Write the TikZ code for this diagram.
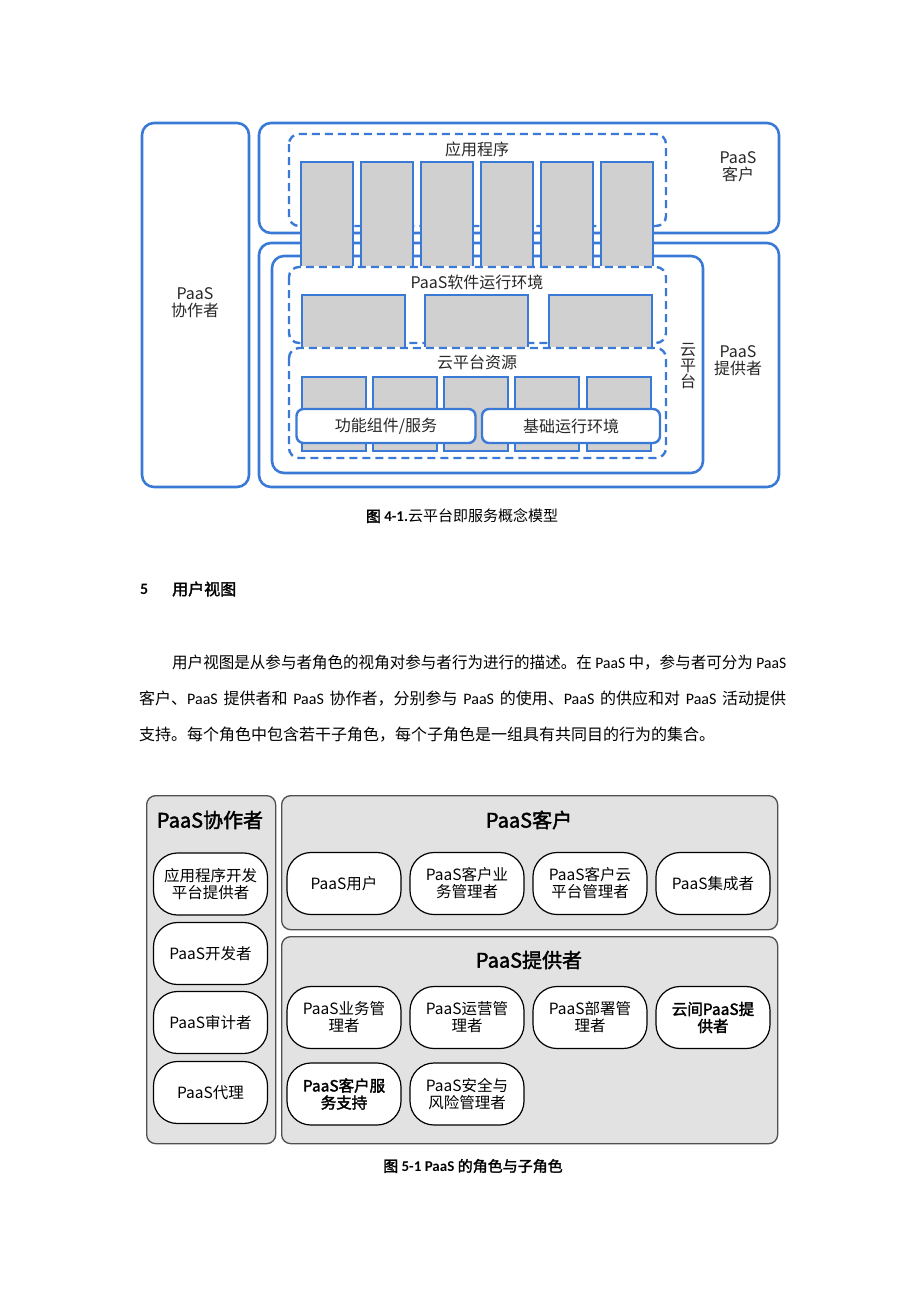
\documentclass[tikz,border=0pt]{standalone}
\usepackage{graphicx}
\usepackage{fontspec}
\setmainfont{Noto Sans CJK SC}[AutoFakeBold=2]
\newfontfamily\latin{Carlito}
\usetikzlibrary{shapes}
\definecolor{paasblue}{RGB}{58,122,214}
\definecolor{colgray}{RGB}{208,208,208}
\definecolor{panelgray}{RGB}{226,226,226}
\definecolor{panelline}{RGB}{80,80,80}
\definecolor{inktext}{RGB}{40,40,40}

\begin{document}
\begin{tikzpicture}[x=1pt,y=-1pt,
      bluebox/.style={draw=paasblue,line width=2.6pt,rounded corners=12pt},
      dashbox/.style={draw=paasblue,line width=2.4pt,dash pattern=on 8pt off 5pt,rounded corners=10pt},
      grayblock/.style={fill=colgray},
      blueline/.style={draw=paasblue,line width=2.4pt},
      whitebox/.style={draw=paasblue,line width=2.4pt,fill=white,rounded corners=7pt,
        minimum height=34pt,inner sep=0pt,text=inktext,font=\fontsize{16}{17}\selectfont},
      bluetext/.style={font=\fontsize{16}{17}\selectfont,align=center,inner sep=0pt,text=inktext},
      panel/.style={draw=panelline,line width=1.3pt,fill=panelgray,rounded corners=9pt,anchor=north west},
      role/.style={draw=black,line width=1.2pt,fill=white,rounded corners=24pt,minimum width=114pt,
        minimum height=62pt,align=center,font=\fontsize{15.5}{17}\selectfont,inner sep=0pt},
      paneltitle/.style={font=\fontsize{20}{22}\selectfont\bfseries,inner sep=0pt},
      bodytext/.style={font=\fontsize{16}{18}\selectfont,anchor=west,inner sep=0pt}]
  \useasboundingbox (0,0) rectangle (920,1302);
  \fill[white] (0,0) rectangle (920,1302);

  % figure 4-1
  \draw[bluebox] (142,123) rectangle (249,487);
  \draw[bluebox] (259,123) rectangle (779,233);
  \draw[bluebox] (259,243) rectangle (779,487);
  \draw[bluebox] (272,256) rectangle (703,473);
  \draw[dashbox] (289,134) rectangle (666,226);
  \foreach \x in {301,361,...,601}{
    \fill[grayblock] (\x,162) rectangle ++(52,104);
    \draw[blueline] (\x,266) -- ++(0,-104) -- ++(52,0) -- ++(0,104);
  }
  \draw[dashbox] (289,267) rectangle (666,343);
  \foreach \x in {302,425,549}{
    \fill[grayblock] (\x,295) rectangle ++(103,52);
    \draw[blueline] (\x,347) -- ++(0,-52) -- ++(103,0) -- ++(0,52);
  }
  \draw[dashbox] (289,348) rectangle (666,458);
  \foreach \x in {302,373,444,515,587}{
    \draw[blueline,fill=colgray] (\x,377) rectangle ++(64,74);
  }
  \node[whitebox,minimum width=179pt] (func) at (386,426) {功能组件/服务};
  \node[whitebox,minimum width=178pt] (infra) at (571,426) {基础运行环境};

  \node[bluetext] (apps) at (477,149) {应用程序};
  \node[bluetext] (runtime) at (477,282) {PaaS软件运行环境};
  \node[bluetext] (resources) at (477,362) {云平台资源};
  \node[bluetext,font=\fontsize{16}{16}\selectfont] (cloud) at (688,366) {云\\平\\台};
  \node[bluetext] (customer) at (738,167) {PaaS\\客户};
  \node[bluetext] (provider) at (738,361) {PaaS\\提供者};
  \node[bluetext] (partner) at (195,303) {PaaS\\协作者};

  \node[font=\fontsize{15}{17}\selectfont,inner sep=0pt] (caption1) at (462,516)
    {{\bfseries 图 {\latin 4-1.}}云平台即服务概念模型};

  % section 5
  \node[bodytext] (secnum) at (140,589) {\bfseries\latin 5};
  \node[bodytext] (sectitle) at (172,589) {\bfseries 用户视图};
  \node[bodytext] (line1) at (172,663)
    {\resizebox{614pt}{\height}{用户视图是从参与者角色的视角对参与者行为进行的描述。在 {\latin PaaS} 中，参与者可分为 {\latin PaaS}}};
  \node[bodytext] (line2) at (139,699)
    {\makebox[647pt][s]{客户、{\latin PaaS} 提供者和 {\latin PaaS} 协作者，分别参与 {\latin PaaS} 的使用、{\latin PaaS} 的供应和对 {\latin PaaS} 活动提供}};
  \node[bodytext] (line3) at (139,735)
    {支持。每个角色中包含若干子角色，每个子角色是一组具有共同目的行为的集合。};

  % figure 5-1
  \node[panel,minimum width=129pt,minimum height=348pt] (collab) at (146,795) {};
  \node[panel,minimum width=496pt,minimum height=134pt] (custpanel) at (281,795) {};
  \node[panel,minimum width=496pt,minimum height=207pt] (provpanel) at (281,936) {};
  \node[paneltitle] (collabtitle) at (210,820) {PaaS协作者};
  \node[paneltitle] (custtitle) at (529,820) {PaaS客户};
  \node[paneltitle] (provtitle) at (529,960) {PaaS提供者};

  \node[role] (devplat) at (210.5,884) {应用程序开发\\平台提供者};
  \node[role] (developer) at (210.5,953.5) {PaaS开发者};
  \node[role] (auditor) at (210.5,1022.5) {PaaS审计者};
  \node[role] (agent) at (210.5,1092.5) {PaaS代理};

  \node[role] (user) at (344,883.5) {PaaS用户};
  \node[role] (bizadmin) at (467,883.5) {PaaS客户业\\务管理者};
  \node[role] (cloudadmin) at (590,883.5) {PaaS客户云\\平台管理者};
  \node[role] (integrator) at (713,883.5) {PaaS集成者};

  \node[role] (bizmgr) at (344,1017.5) {PaaS业务管\\理者};
  \node[role] (opsmgr) at (467,1017.5) {PaaS运营管\\理者};
  \node[role] (deploymgr) at (590,1017.5) {PaaS部署管\\理者};
  \node[role,font=\fontsize{15.5}{17}\selectfont\bfseries] (intercloud) at (713,1017.5) {云间PaaS提\\供者};
  \node[role,font=\fontsize{15.5}{17}\selectfont\bfseries] (support) at (344,1094) {PaaS客户服\\务支持};
  \node[role] (riskmgr) at (467,1094) {PaaS安全与\\风险管理者};

  \node[font=\fontsize{15}{17}\selectfont\bfseries,inner sep=0pt] (caption2) at (473,1166)
    {图 {\latin 5-1 PaaS} 的角色与子角色};
\end{tikzpicture}
\end{document}
